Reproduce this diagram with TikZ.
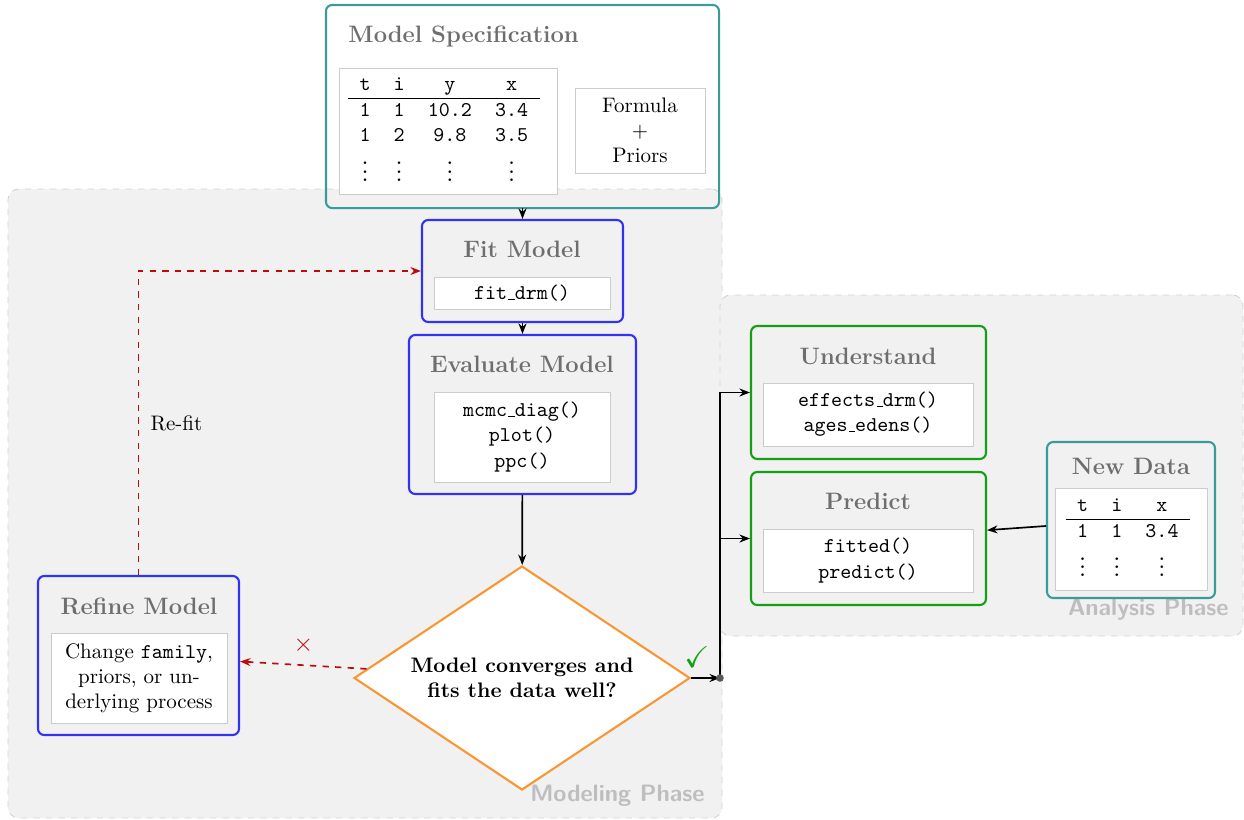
\documentclass[tikz,border=0pt]{standalone}
\usepackage{amssymb}
\usetikzlibrary{arrows.meta,shapes.geometric}

\definecolor{specteal}{RGB}{58,155,155}
\definecolor{fitblue}{RGB}{50,50,245}
\definecolor{usegreen}{RGB}{20,160,20}
\definecolor{askorange}{RGB}{250,150,50}
\definecolor{refitred}{RGB}{190,10,10}
\definecolor{titlegray}{RGB}{110,110,110}
\definecolor{phasegray}{RGB}{241,241,241}
\definecolor{phaseline}{RGB}{210,210,210}
\definecolor{phasetext}{RGB}{190,190,190}

\newcommand{\pxw}{0.476pt}
\newcommand{\lowbar}{\leavevmode\kern.06em\vbox{\hrule width.3em}}

\tikzset{
	boxsize/.style 2 args={minimum width=#1*\pxw, minimum height=#2*\pxw},
	phase/.style={draw=phaseline, dashed, fill=phasegray, rounded corners=5pt, inner sep=0pt},
	phaselabel/.style={text=phasetext, font=\fontsize{11.3}{13.5}\selectfont\sffamily\bfseries, inner sep=0pt},
	stage/.style={draw=fitblue, line width=1pt, fill=phasegray, rounded corners=3pt, inner sep=0pt},
	usebox/.style={stage, draw=usegreen},
	databox/.style={stage, draw=specteal},
	boxtitle/.style={text=titlegray, font=\fontsize{11.3}{13.5}\selectfont\bfseries, inner sep=0pt},
	textbox/.style={draw=black!20, fill=white, inner sep=0pt, align=center},
	codebox/.style={textbox, font=\ttfamily},
	ask/.style={diamond, draw=askorange, line width=1pt, fill=white, aspect=1.5, inner sep=0pt, align=center, font=\bfseries},
	flow/.style={-{Stealth[length=5pt,width=3.8pt]}, line width=0.8pt},
	refit/.style={flow, dashed, draw=refitred}
}

\begin{document}
\begin{tikzpicture}[x=\pxw, y=-0.476pt]
	\useasboundingbox (0,0) rectangle (1244,820);

	\node[databox, fill=white, draw=none, boxsize={391}{201}] (spec) at (522.5,106.5) {};
	\node[phase, boxsize={714}{629}] (modeling) at (365,503.5) {};
	\node[phase, boxsize={523}{341}] (analysis) at (981.5,465.5) {};
	\draw[specteal, line width=1pt, rounded corners=3pt] (spec.south west) rectangle (spec.north east);
	\node[phaselabel, anchor=base east] (modelinglabel) at (705,801) {Modeling Phase};
	\node[phaselabel, anchor=base east] (analysislabel) at (1229,615) {Analysis Phase};

	% model specification
	\node[boxtitle, anchor=west] (spectitle) at (348,36) {Model Specification};
	\node[textbox, boxsize={218}{126}] (spectable) at (448,131) {%
		\ttfamily\setlength{\tabcolsep}{5.5pt}%
		\begin{tabular}{cccc}
			t & i & y & x\\ \hline
			1 & 1 & 10.2 & 3.4\\
			1 & 2 & 9.8 & 3.5\\
			$\vdots$ & $\vdots$ & $\vdots$ & $\vdots$
		\end{tabular}\hspace*{4pt}};
	\node[textbox, boxsize={130}{85}] (specformula) at (640,130.5) {Formula\\$+$\\Priors};

	% modeling phase
	\node[stage, boxsize={201}{102}] (fit) at (522.5,271) {};
	\node[boxtitle] (fittitle) at (522,249) {Fit Model};
	\node[codebox, boxsize={176}{32}] (fitcode) at (522,293) {fit\lowbar drm()};

	\node[stage, boxsize={227}{159}] (eval) at (522.5,414.5) {};
	\node[boxtitle] (evaltitle) at (522,364) {Evaluate Model};
	\node[codebox, boxsize={176}{90}] (evalcode) at (522,437) {mcmc\lowbar diag()\\plot()\\ppc()};

	\node[ask, boxsize={336}{224}] (check) at (522,678) {Model converges and\\fits the data well?};

	\node[stage, boxsize={201}{159}] (refine) at (138.5,655.5) {};
	\node[boxtitle] (refinetitle) at (139,606) {Refine Model};
	\node[textbox, boxsize={176}{90}] (refinetext) at (139,678) {Change \texttt{family},\\priors, or un-\\derlying process};

	% analysis phase
	\node[usebox, boxsize={235}{133}] (understand) at (868.5,392.5) {};
	\node[boxtitle] (understandtitle) at (868,356) {Understand};
	\node[codebox, boxsize={210}{63}] (understandcode) at (868,414.5) {effects\lowbar drm()\\ages\lowbar edens()};

	\node[usebox, boxsize={235}{133}] (predict) at (868.5,538.5) {};
	\node[boxtitle] (predicttitle) at (868,501) {Predict};
	\node[codebox, boxsize={210}{63}] (predictcode) at (868,560.5) {fitted()\\predict()};

	\node[databox, boxsize={168}{156}] (newdata) at (1131,520) {};
	\node[boxtitle] (newdatatitle) at (1131,466) {New Data};
	\node[textbox, boxsize={152}{102}] (newdatatable) at (1131,539) {%
		\ttfamily\setlength{\tabcolsep}{5.5pt}%
		\begin{tabular}{ccc}
			t & i & x\\ \hline
			1 & 1 & 3.4\\
			$\vdots$ & $\vdots$ & $\vdots$
		\end{tabular}\hspace*{3pt}};

	% connectors
	\coordinate (split) at (720,678);
	\draw[flow] (spec) -- (fit);
	\draw[flow] (fit) -- (eval);
	\draw[flow] (eval) -- (check);
	\draw[flow] (check) -- (split);
	\draw[flow] (split) |- (understand);
	\draw[flow] (split) |- (predict);
	\fill[black!65] (split) circle (1.8pt);
	\draw[flow] (newdata) -- (predict);
	\node[text=usegreen, font=\Large] (ok) at (697,657) {$\checkmark$};
	\draw[refit] (check) -- node[above=2pt, text=refitred, font=\large] (no) {$\times$} (refine);
	\draw[refit] (refine) |- node[pos=0.25, right=2pt, text=black] (refitlabel) {Re-fit} (fit);
\end{tikzpicture}
\end{document}
